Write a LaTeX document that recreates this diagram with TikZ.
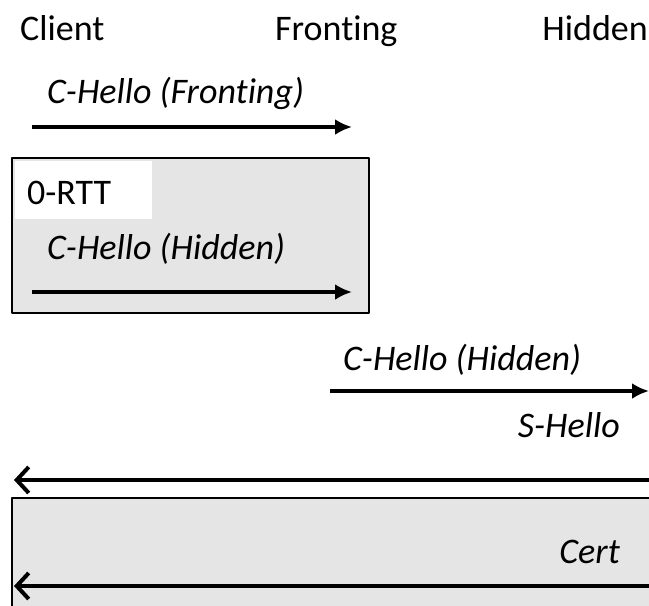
\documentclass[tikz,border=0pt]{standalone}
\usepackage{fontspec}
\setmainfont[Ligatures=NoCommon]{Carlito}
\usetikzlibrary{arrows.meta}
\begin{document}
\begin{tikzpicture}[x=1pt, y=-1pt, font=\fontsize{36}{42}\selectfont, line join=round,
		lbl/.style={inner sep=0pt},
		msg/.style={lbl, font=\fontsize{36}{42}\selectfont\itshape},
		fwd/.style={line width=3.6pt, -{Latex[length=17pt,width=16pt]}},
		back/.style={line width=4pt, -{Straight Barb[length=12pt,width=26pt,line width=4pt]}},
		phase/.style={draw=black, line width=2pt, fill=black!10}]
		\useasboundingbox (0,0) rectangle (649,606);
		\begin{scope}
			\node[lbl, anchor=base west] (client) at (20,40) {Client};
			\node[lbl, anchor=base west] (fronting) at (275,40) {Fronting};
			\node[lbl, anchor=base east] (hidden) at (648,40) {Hidden};
		\end{scope}
		\node[msg, anchor=base west] (chf) at (47,103) {C-Hello (Fronting)};
		\coordinate (a1s) at (32,127);
		\coordinate (a1e) at (352,127);
		\draw[fwd] (a1s) -- (a1e);
		\draw[phase] (12,158) rectangle (369,313);
		\fill[white] (15,161) rectangle (152,219);
		\node[lbl, anchor=base west] (zrtt) at (27,204) {0-RTT};
		\node[msg, anchor=base west] (chh) at (47,259) {C-Hello (Hidden)};
		\coordinate (a2s) at (32,292);
		\coordinate (a2e) at (352,292);
		\draw[fwd] (a2s) -- (a2e);
		\node[msg, anchor=base west] (chh2) at (343,370) {C-Hello (Hidden)};
		\coordinate (a3s) at (330,391);
		\coordinate (a3e) at (649,391);
		\draw[fwd] (a3s) -- (a3e);
		\node[msg, anchor=base east] (shello) at (620,437) {S-Hello};
		\coordinate (a4s) at (652,480);
		\coordinate (a4e) at (14,480);
		\draw[back] (a4s) -- (a4e);
		\draw[phase] (12,498) rectangle (660,620);
		\node[msg, anchor=base east] (cert) at (620,563) {Cert};
		\coordinate (a5s) at (652,586);
		\coordinate (a5e) at (14,586);
		\draw[back] (a5s) -- (a5e);
	\end{tikzpicture}
\end{document}
